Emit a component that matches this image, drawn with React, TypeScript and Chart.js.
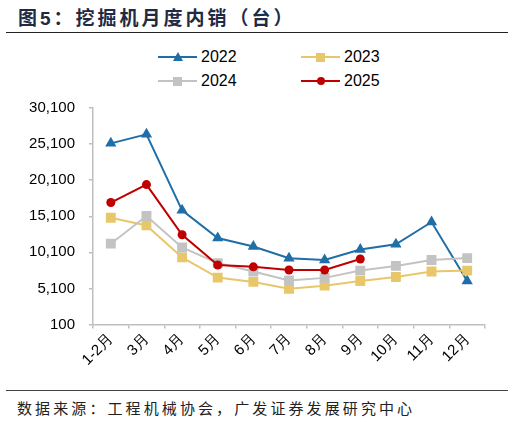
import React, { useEffect, useRef } from 'react';
import { Chart, registerables } from 'chart.js';

Chart.register(...registerables);

// Monthly domestic excavator sales (units)
const months = ['1-2月', '3月', '4月', '5月', '6月', '7月', '8月', '9月', '10月', '11月', '12月'];
const sales2022 = [25200, 26450, 15920, 12090, 10910, 9270, 9040, 10480, 11220, 14300, 6130];
const sales2023 = [14900, 13830, 9400, 6600, 6000, 5040, 5480, 6130, 6690, 7440, 7570];
const sales2024 = [11300, 15140, 10780, 8610, 7440, 6210, 6560, 7570, 8220, 9040, 9300];
const sales2025 = [17000, 19490, 12530, 8350, 8090, 7650, 7650, 9170, null, null, null];
const yTicks = [100, 5100, 10100, 15100, 20100, 25100, 30100];

const seriesNames = ['2022', '2023', '2024', '2025'];
const seriesColors = ['#1F6EA8', '#E8C76A', '#C3C3C3', '#C00000'];
const seriesPoints = ['triangle', 'rect', 'rect', 'circle'];
const pointSizes = [6.5, 7, 7, 4.5];

const TICK_FONT = { family: '"Liberation Sans", Arial, sans-serif', size: 15 };
const AXIS_GRAY = '#BFBFBF';

const legendPos = [
  { x: 158, y: 57 },
  { x: 301, y: 57 },
  { x: 158, y: 81 },
  { x: 301, y: 81 },
];

const LegendMarker: React.FC<{ kind: string; color: string }> = ({ kind, color }) => {
  if (kind === 'triangle') {
    return (
      <div style={{
        position: 'absolute', left: 15, top: -5, width: 0, height: 0,
        borderLeft: '5px solid transparent', borderRight: '5px solid transparent',
        borderBottom: `9px solid ${color}`,
      }} />
    );
  }
  if (kind === 'circle') {
    return <div style={{ position: 'absolute', left: 15.5, top: -4, width: 8, height: 8, borderRadius: '50%', background: color }} />;
  }
  return <div style={{ position: 'absolute', left: 15, top: -4.5, width: 9, height: 9, background: color }} />;
};

const App: React.FC = () => {
  const canvasRef = useRef<HTMLCanvasElement | null>(null);
  const chartRef = useRef<Chart | null>(null);

  useEffect(() => {
    if (!canvasRef.current) return;
    const values = [sales2022, sales2023, sales2024, sales2025];

    chartRef.current = new Chart(canvasRef.current, {
      type: 'line',
      data: {
        labels: months,
        datasets: seriesNames.map((name, i) => ({
          label: name,
          data: values[i],
          borderColor: seriesColors[i],
          backgroundColor: seriesColors[i],
          borderWidth: 2,
          pointStyle: seriesPoints[i] as any,
          pointRadius: pointSizes[i],
          pointHoverRadius: pointSizes[i],
          pointBorderWidth: 0,
          tension: 0,
          // later years drawn on top
          order: 3 - i,
        })),
      },
      options: {
        animation: false,
        responsive: true,
        maintainAspectRatio: false,
        layout: { padding: { top: 10, right: 29, left: 0, bottom: 0 } },
        plugins: {
          legend: { display: false },
          tooltip: { enabled: false },
        },
        scales: {
          x: {
            offset: true,
            ticks: {
              maxRotation: 45,
              minRotation: 45,
              font: TICK_FONT,
              color: '#000',
              padding: 2,
            },
            grid: { drawOnChartArea: false, tickLength: 4, color: AXIS_GRAY, lineWidth: 1.5, offset: true },
            border: { color: AXIS_GRAY, width: 1.5 },
            afterFit: (s: any) => { s.height = 65.5; },
          },
          y: {
            min: 100,
            max: 30100,
            afterBuildTicks: (s: any) => { s.ticks = yTicks.map((v) => ({ value: v })); },
            ticks: {
              font: TICK_FONT,
              color: '#000',
              padding: 14,
              callback: (v: any) => Number(v).toLocaleString('en-US'),
            },
            grid: { drawOnChartArea: false, tickLength: 4, color: AXIS_GRAY, lineWidth: 1.5 },
            border: { color: AXIS_GRAY, width: 1.5 },
            afterFit: (s: any) => { s.width = 93; },
          },
        },
      },
    });

    return () => {
      chartRef.current?.destroy();
      chartRef.current = null;
    };
  }, []);

  return (
    <div style={{ position: 'fixed', left: 0, top: 0, width: 514, height: 422, background: '#fff', overflow: 'hidden' }}>
      <div style={{
        position: 'absolute', left: 18, top: 4, fontSize: 19, fontWeight: 700, letterSpacing: 3,
        fontFamily: '"Noto Sans CJK SC", sans-serif', color: '#1F2A44', whiteSpace: 'nowrap', lineHeight: '26px',
      }}>
        图<span style={{ fontFamily: '"Liberation Sans", Arial, sans-serif' }}>5</span>：挖掘机月度内销（台）
      </div>
      <div style={{ position: 'absolute', left: 6, top: 31.5, width: 502, height: 1.5, background: '#222' }} />

      {seriesNames.map((name, i) => (
        <div key={name} style={{ position: 'absolute', left: legendPos[i].x, top: legendPos[i].y, height: 0 }}>
          <div style={{ position: 'absolute', left: 0, top: -1, width: 39, height: 2, background: seriesColors[i] }} />
          <LegendMarker kind={seriesPoints[i]} color={seriesColors[i]} />
          <div style={{
            position: 'absolute', left: 43, top: -10, fontSize: 16, lineHeight: '20px',
            fontFamily: '"Liberation Sans", Arial, sans-serif', color: '#000',
          }}>{name}</div>
        </div>
      ))}

      <div style={{ position: 'absolute', left: 0, top: 85, width: 514, height: 305 }}>
        <canvas ref={canvasRef} />
      </div>

      <div style={{ position: 'absolute', left: 6, top: 389.5, width: 502, height: 1.5, background: '#444' }} />
      <div style={{
        position: 'absolute', left: 17, top: 397, fontSize: 15, letterSpacing: 3.1, lineHeight: '22px',
        fontFamily: '"Noto Sans CJK SC", sans-serif', color: '#222', whiteSpace: 'nowrap',
      }}>
        数据来源：工程机械协会，广发证券发展研究中心
      </div>
    </div>
  );
};

export default App;
